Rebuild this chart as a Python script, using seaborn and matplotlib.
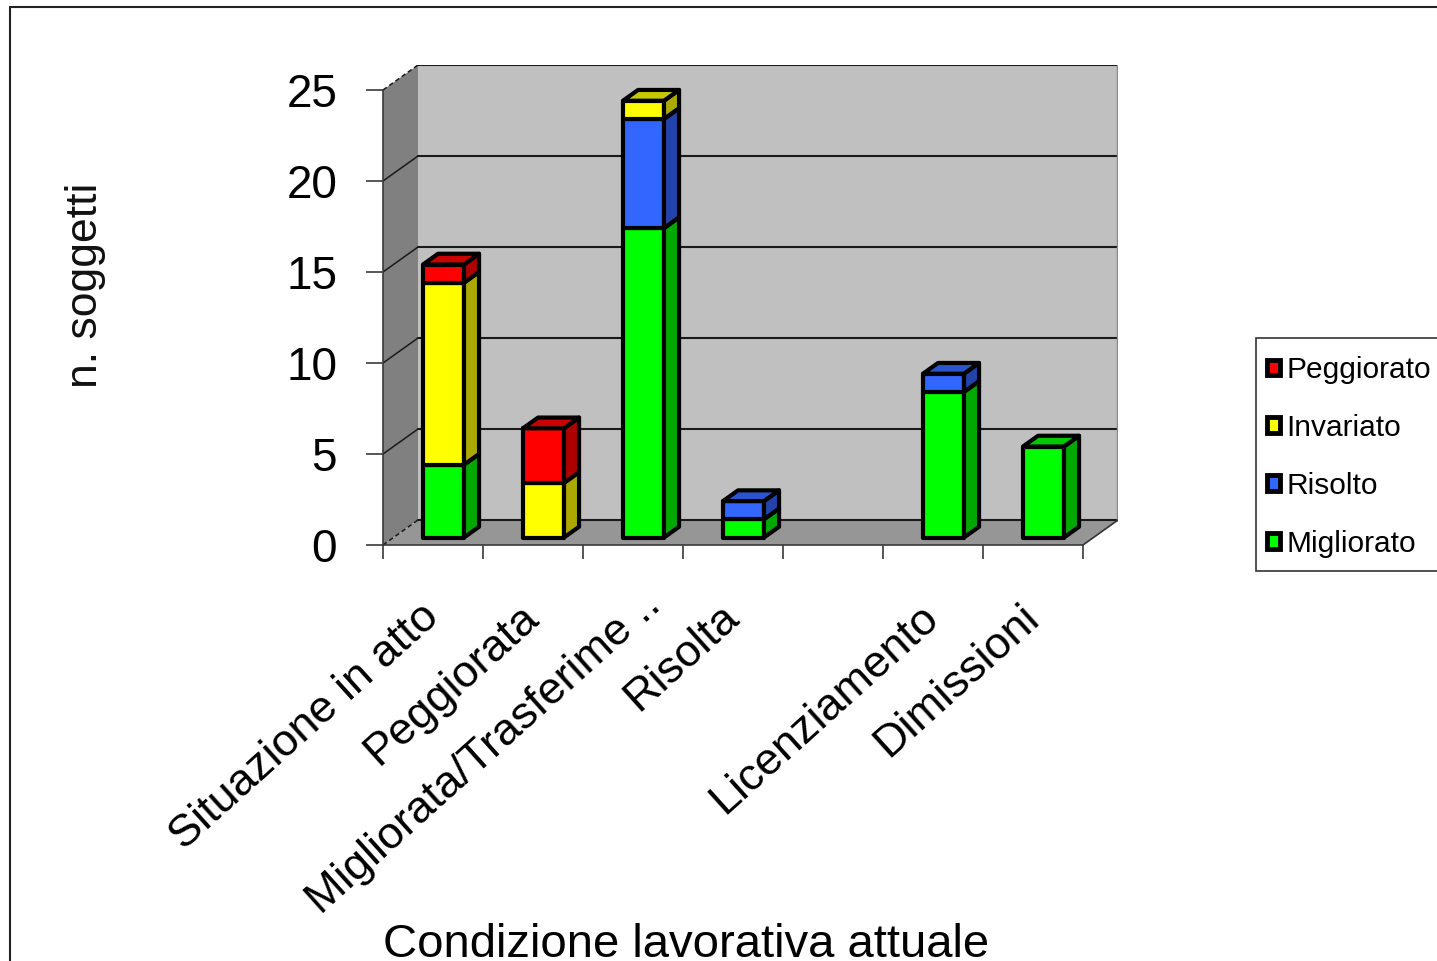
import numpy as np
import pandas as pd
import matplotlib
matplotlib.use("Agg")
import matplotlib.pyplot as plt
import seaborn as sns
from matplotlib.patches import Polygon, Patch, Rectangle
from matplotlib.lines import Line2D
from matplotlib.transforms import ScaledTranslation

# ---- data -------------------------------------------------------------
categories = ["Situazione in atto", "Peggiorata", "Migliorata/Trasferime ..",
              "Risolta", "", "Licenziamento", "Dimissioni"]
series_names = ["Migliorato", "Risolto", "Invariato", "Peggiorato"]  # bottom -> top
migliorato = [4, 0, 17, 1, 0, 8, 5]
risolto = [0, 0, 6, 1, 0, 1, 0]
invariato = [10, 3, 1, 0, 0, 0, 0]
peggiorato = [1, 3, 0, 0, 0, 0, 0]
y_ticks = [0, 5, 10, 15, 20, 25]

front_colors = {"Migliorato": "#00FF00", "Risolto": "#3366FF",
                "Invariato": "#FFFF00", "Peggiorato": "#FF0000"}
side_colors = {"Migliorato": "#00A800", "Risolto": "#2244AA",
               "Invariato": "#ADA800", "Peggiorato": "#AD0000"}
top_colors = {"Migliorato": "#00C800", "Risolto": "#2A55CC",
              "Invariato": "#C8C800", "Peggiorato": "#C80000"}

df = pd.DataFrame({"Migliorato": migliorato, "Risolto": risolto,
                   "Invariato": invariato, "Peggiorato": peggiorato})

# ---- style ------------------------------------------------------------
sns.set_theme(style="white")
plt.rcParams["font.family"] = ["Liberation Sans", "DejaVu Sans"]
plt.rcParams["text.color"] = "black"
plt.rcParams["xtick.color"] = "black"
plt.rcParams["ytick.color"] = "black"
plt.rcParams["axes.labelcolor"] = "black"

W, H = 1437, 961
fig = plt.figure(figsize=(W / 100, H / 100), dpi=100)
ax = fig.add_axes([383 / W, 1 - 545 / H, 735 / W, 480 / H])

n = len(categories)
x_lo, x_hi = -0.5, n - 0.5
y_top = max(y_ticks)
DX = 0.35            # depth of the box along x (category units)
DY = 25 / 18.2       # depth of the box along y (value units)
D0, D1 = 0.30, 0.73  # front / back depth fraction of the columns
BW = 0.41            # column width
edge_lw = 3.0

# ---- walls and floor --------------------------------------------------
ax.add_patch(Polygon([(x_lo + DX, DY), (x_hi + DX, DY), (x_hi + DX, y_top + DY),
                      (x_lo + DX, y_top + DY)], closed=True, fc="#C0C0C0",
                     ec="none", zorder=0.5))
ax.add_patch(Polygon([(x_lo, 0), (x_lo + DX, DY), (x_lo + DX, y_top + DY),
                      (x_lo, y_top)], closed=True, fc="#808080", ec="none", zorder=0.6))
ax.add_patch(Polygon([(x_lo, 0), (x_hi, 0), (x_hi + DX, DY), (x_lo + DX, DY)],
                     closed=True, fc="#969696", ec="none", zorder=0.6))

for v in y_ticks:
    ax.plot([x_lo + DX, x_hi + DX], [v + DY, v + DY], color="#1a1a1a", lw=1.5, zorder=1)
    ls = (0, (3, 2)) if v in (0, y_top) else "-"
    ax.plot([x_lo, x_lo + DX], [v, v + DY], color="#1a1a1a", lw=1.1, ls=ls, zorder=1)
ax.plot([x_hi + DX, x_hi + DX], [DY, y_top + DY], color="#8a8a8a", lw=2.5, zorder=1)
ax.plot([x_hi, x_hi + DX], [0, DY], color="#333333", lw=1.2, zorder=1)

# ---- front faces of the stacked columns ---------------------------------
pos = np.arange(n) + D0 * DX
bottom = np.full(n, D0 * DY)
for name in series_names:
    vals = df[name].to_numpy(dtype=float)
    before = len(ax.patches)
    sns.barplot(x=pos, y=vals, native_scale=True, width=BW, color=front_colors[name],
                saturation=1, edgecolor="black", linewidth=edge_lw, bottom=bottom,
                errorbar=None, ax=ax, zorder=3)
    for p in list(ax.patches[before:]):
        if p.get_height() == 0:
            p.remove()
        else:
            p.set_joinstyle("round")
    bottom = bottom + vals

# ---- side and top faces -------------------------------------------------
ddx, ddy = (D1 - D0) * DX, (D1 - D0) * DY
cum = np.zeros(n)
top_series = [None] * n
for name in series_names:
    vals = df[name].to_numpy(dtype=float)
    for i in range(n):
        if vals[i] <= 0:
            continue
        xr = pos[i] + BW / 2
        y0 = D0 * DY + cum[i]
        y1 = y0 + vals[i]
        ax.add_patch(Polygon([(xr, y0), (xr + ddx, y0 + ddy), (xr + ddx, y1 + ddy), (xr, y1)],
                             closed=True, fc=side_colors[name], ec="black",
                             lw=edge_lw, joinstyle="round", zorder=3))
        top_series[i] = name
    cum += vals

for i in range(n):
    if top_series[i] is None:
        continue
    xl, xr = pos[i] - BW / 2, pos[i] + BW / 2
    yt = D0 * DY + cum[i]
    ax.add_patch(Polygon([(xl, yt), (xr, yt), (xr + ddx, yt + ddy), (xl + ddx, yt + ddy)],
                         closed=True, fc=top_colors[top_series[i]], ec="black",
                         lw=edge_lw, joinstyle="round", zorder=3))

# ---- axes -----------------------------------------------------------------
ax.set_xlim(x_lo, x_hi + DX)
ax.set_ylim(0, y_top + DY)
ax.set_facecolor("none")
for s in ("top", "right"):
    ax.spines[s].set_visible(False)
ax.spines["left"].set_bounds(0, y_top)
ax.spines["bottom"].set_bounds(x_lo, x_hi)
for s in ("left", "bottom"):
    ax.spines[s].set_color("#3a3a3a")
    ax.spines[s].set_linewidth(1.2)
    ax.spines[s].set_zorder(2)

ax.set_yticks(y_ticks)
ax.set_yticklabels([str(v) for v in y_ticks])
ax.tick_params(axis="y", direction="out", length=12, width=1.2, color="#3a3a3a",
               labelsize=33, pad=21, left=True, labelcolor="black")
ax.set_xticks(np.arange(n + 1) - 0.5)
ax.set_xticklabels([""] * (n + 1))
ax.tick_params(axis="x", which="major", direction="out", length=10, width=1.2,
               color="#3a3a3a", bottom=True)
ax.set_xticks(np.arange(n), minor=True)
xlabels = ax.set_xticklabels(categories, minor=True, rotation=42, ha="right",
                             va="center", rotation_mode="anchor", fontsize=32.5,
                             color="black")
ax.tick_params(axis="x", which="minor", length=0, pad=48)
# the truncated label runs a little past its category centre
xlabels[2].set_transform(xlabels[2].get_transform()
                         + ScaledTranslation(0.22, 0.13, fig.dpi_scale_trans))
ax.set_xlabel("")
ax.set_ylabel("")
ax.grid(False)

fig.text(85 / W, 1 - 285 / H, "n. soggetti", rotation=90, ha="center", va="center",
         fontsize=32, color="#111111")
fig.text(686 / W, 1 - 957 / H, "Condizione lavorativa attuale", ha="center",
         va="baseline", fontsize=34, color="black")

# ---- legend -----------------------------------------------------------
fig.add_artist(Rectangle((1256 / W, 1 - 571 / H), (W + 10 - 1256) / W, 233 / H,
                         transform=fig.transFigure, fc="white", ec="#333333",
                         lw=1.2, zorder=4))
handles = [Patch(facecolor=front_colors[s], edgecolor="black", linewidth=3.5)
           for s in reversed(series_names)]
leg = fig.legend(handles, list(reversed(series_names)), loc="upper left",
                 bbox_to_anchor=(1267 / W, 1 - 356 / H), frameon=False,
                 fontsize=21.5, handlelength=0.42, handleheight=0.42,
                 handletextpad=0.22, labelspacing=1.0, borderpad=0,
                 borderaxespad=0)
leg.set_zorder(5)

# ---- outer frame ----------------------------------------------------------
fig.add_artist(Line2D([10 / W, 10 / W], [0, 1 - 7 / H], color="#222222", lw=1.5))
fig.add_artist(Line2D([10 / W, 1], [1 - 7 / H, 1 - 7 / H], color="#222222", lw=1.5))

fig.savefig("out.png", dpi=100)
